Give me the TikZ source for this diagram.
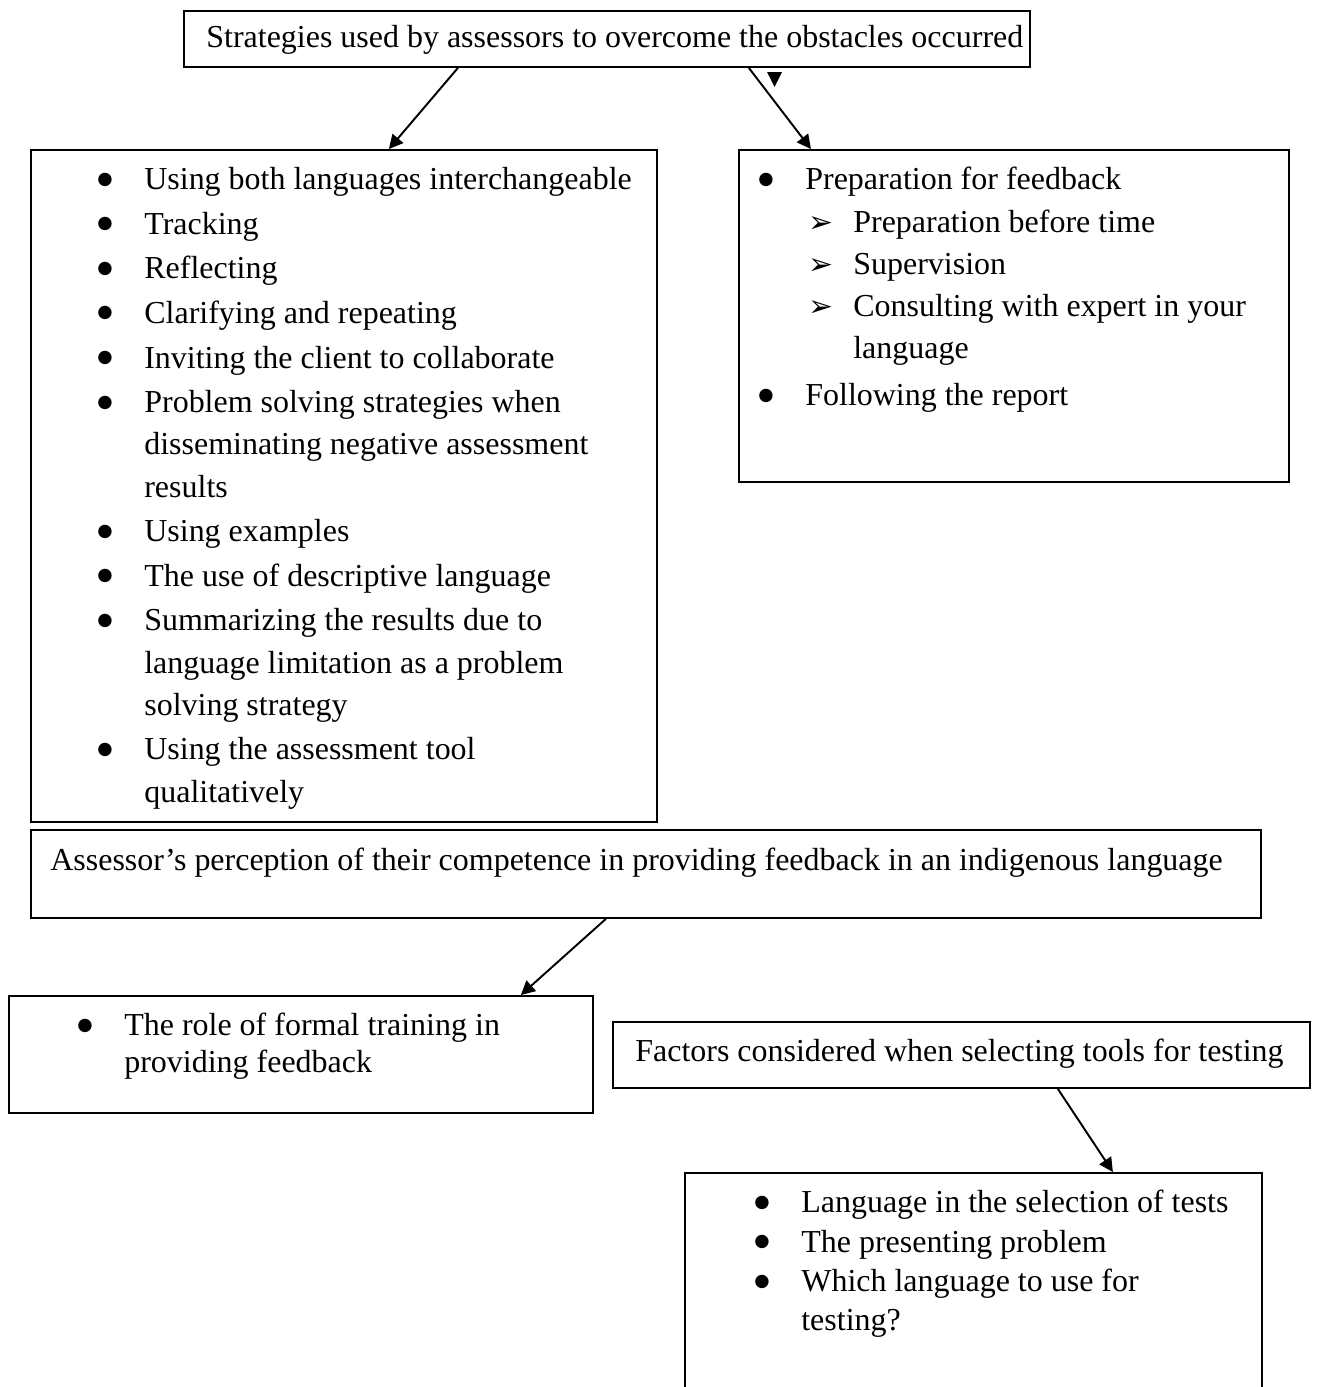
\documentclass[tikz,border=0pt]{standalone}
\usepackage{fontspec}
\setmainfont{Liberation Serif}
\newfontfamily\symfont{DejaVu Sans}
\usepackage{tikz}
\usetikzlibrary{arrows.meta, positioning}
\newcommand{\itm}[1]{\makebox[0.94cm][l]{\raisebox{0.11cm}{\symfont\fontsize{10}{10}\selectfont ●}}#1}
\newcommand{\contl}[1]{\hspace*{0.94cm}#1}
\newcommand{\subitm}[1]{\hspace*{1.0cm}\makebox[0.9cm][l]{\symfont\fontsize{17}{17}\selectfont ➢}#1}

\begin{document}
\begin{tikzpicture}[
  x=0.02cm, y=-0.02cm,
  box/.style={draw, line width=1.1pt, inner sep=0pt, anchor=north west},
  txt/.style={inner sep=0pt, anchor=north west, align=left, font=\fontsize{18.2}{24}\selectfont,
    execute at begin node={\rule{0pt}{0.5cm}}},
  arr/.style={-{Triangle[length=0.28cm, width=0.28cm]}, line width=1.1pt}
]
\useasboundingbox (0,0) rectangle (1317,1387);

% boxes
\node[box, minimum width=16.92cm, minimum height=1.12cm] (strat) at (183,10) {};
\node[box, minimum width=12.52cm, minimum height=13.44cm] (techs) at (30,149) {};
\node[box, minimum width=11.00cm, minimum height=6.64cm] (prep) at (738,149) {};
\node[box, minimum width=24.60cm, minimum height=1.76cm] (percep) at (30,829) {};
\node[box, minimum width=11.68cm, minimum height=2.34cm] (train) at (8,995) {};
\node[box, minimum width=13.94cm, minimum height=1.32cm] (factors) at (612,1021) {};
\node[box, minimum width=11.54cm, minimum height=4.60cm] (tests) at (684,1172) {};

% texts (first baseline sits 25 units below the given point)
\node[txt] (stratT) at (206,22) {Strategies used by assessors to overcome the obstacles occurred};
\node[txt] (techsT) at (97,167) {\itm{Using both languages interchangeable}\\[1.4pt]
  \itm{Tracking}\\[1.4pt]
  \itm{Reflecting}\\[1.4pt]
  \itm{Clarifying and repeating}\\[1.4pt]
  \itm{Inviting the client to collaborate}\\[1.4pt]
  \itm{Problem solving strategies when}\\
  \contl{disseminating negative assessment}\\
  \contl{results}\\[1.4pt]
  \itm{Using examples}\\[1.4pt]
  \itm{The use of descriptive language}\\[1.4pt]
  \itm{Summarizing the results due to}\\
  \contl{language limitation as a problem}\\
  \contl{solving strategy}\\[1.4pt]
  \itm{Using the assessment tool}\\
  \contl{qualitatively}};
\node[txt] (prepT) at (758,167) {\itm{Preparation for feedback}\\
  \subitm{Preparation before time}\\
  \subitm{Supervision}\\
  \subitm{Consulting with expert in your}\\
  \hspace*{1.9cm}language\\[3pt]
  \itm{Following the report}};
\node[txt] (percepT) at (50,845) {Assessor’s perception of their competence in providing feedback in an indigenous language};
\node[txt, font=\fontsize{18.2}{21}\selectfont] (trainT) at (77,1013) {\itm{The role of formal training in}\\
  \contl{providing feedback}};
\node[txt] (factorsT) at (635,1036) {Factors considered when selecting tools for testing};
\node[txt, font=\fontsize{18.2}{22.4}\selectfont] (testsT) at (754,1190) {\itm{Language in the selection of tests}\\
  \itm{The presenting problem}\\
  \itm{Which language to use for}\\
  \contl{testing?}};

% connectors
\draw[arr] ([xshift=-2.98cm]strat.south) -- ([xshift=0.90cm]techs.north);
\draw[arr] ([xshift=2.84cm]strat.south) -- ([xshift=-4.06cm]prep.north);
\draw[arr] ([xshift=-0.80cm]percep.south) -- ([xshift=4.40cm]train.north);
\draw[arr] ([xshift=1.93cm]factors.south) -- ([xshift=2.79cm]tests.north);

% stray tip below the top box
\fill (767,72) -- (782,72) -- (774.5,87) -- cycle;

\end{tikzpicture}
\end{document}
